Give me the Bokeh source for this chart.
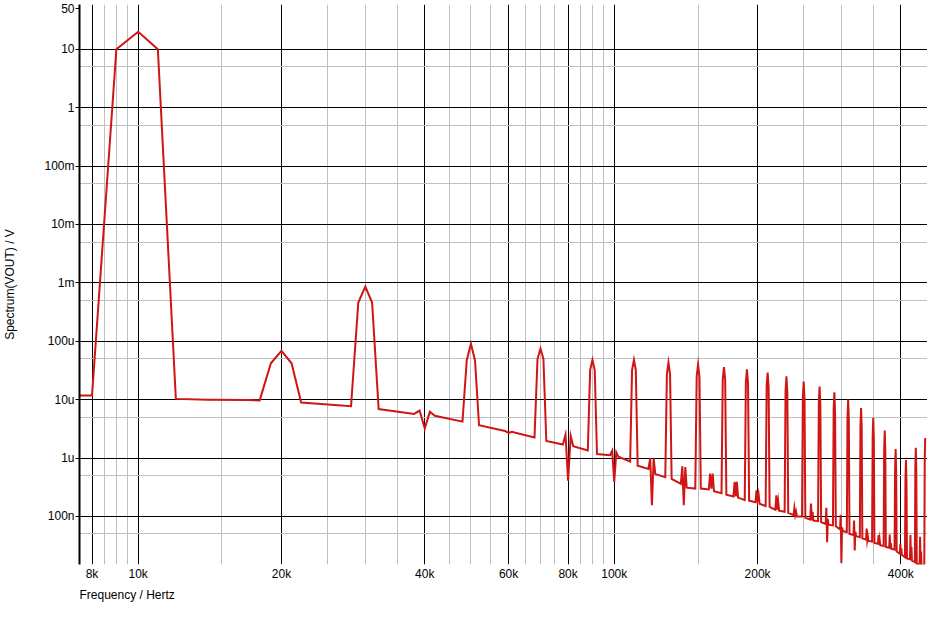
from bokeh.plotting import figure
from bokeh.models import FixedTicker, CustomJSTickFormatter, Title, ColumnDataSource
from bokeh.embed import file_html
from bokeh.resources import INLINE

# ---------------- data ----------------
# fundamental region: frequency in kHz, magnitude in V
fund_khz = [7, 8, 9, 10, 11, 12, 14, 17]
fund_v = [1.17e-5, 1.18e-5, 10.0, 20.0, 10.0, 1.03e-5, 1.0e-5, 9.9e-6]

# harmonic groups: each harmonic is drawn with FFT bins at -2, -1, 0, +1, +2 kHz
bin_offsets_khz = [-2, -1, 0, 1, 2]
harm_khz = [20, 30, 40, 50, 60, 70, 80, 90, 100, 110, 120, 130, 140, 150, 160,
            170, 180, 190, 200, 210, 220, 230, 240, 250, 260, 270, 280, 290, 300,
            310, 320, 330, 340, 350, 360, 370, 380, 390, 400, 410, 420, 430, 440, 450]
floor_lo_v = [9.7e-6, 7.7e-6, 5.7e-6, 4.2e-6, 3.0e-6, 2.25e-6, 1.7e-6, 1.35e-6, 1.12e-6,
              8.7e-7, 6.5e-7, 4.7e-7, 3.6e-7, 3.0e-7, 2.9e-7, 2.5e-7, 2.2e-7, 1.9e-7,
              1.75e-7, 1.5e-7, 1.3e-7, 1.2e-7, 1.05e-7, 1.0e-7, 8.8e-8, 8.3e-8, 7.4e-8,
              7.0e-8, 6.0e-8, 5.4e-8, 4.8e-8, 4.4e-8, 4.0e-8, 3.7e-8, 3.4e-8, 3.1e-8,
              2.9e-8, 2.7e-8, 2.3e-8, 2.0e-8, 1.85e-8, 1.65e-8, 1.5e-8, 1.45e-8]
side_lo_v = [4.2e-5, 4.6e-4, 6.5e-6, 4.7e-5, 2.9e-6, 5.0e-5, 2.5e-6, 3.2e-5, 1.33e-6,
             3.2e-5, 1.0e-6, 2.7e-5, 7.2e-7, 2.5e-5, 5.4e-7, 2.2e-5, 3.9e-7, 2.0e-5,
             2.8e-7, 1.7e-5, 2.3e-7, 1.4e-5, 1.4e-7, 1.1e-5, 1.66e-7, 9.0e-6, 1.4e-7,
             7.0e-6, 1.07e-7, 5.0e-6, 8.5e-8, 3.5e-6, 6.2e-8, 2.3e-6, 4.8e-8, 1.4e-6,
             4.9e-8, 6.5e-7, 3.4e-8, 4.2e-7, 4.8e-8, 7.0e-7, 4.5e-8, 1.0e-6]
peak_v = [6.85e-5, 8.65e-4, 3.2e-6, 9.1e-5, 2.7e-6, 7.5e-5, 4.1e-7, 4.8e-5, 3.9e-7,
          4.8e-5, 1.55e-7, 4.3e-5, 1.55e-7, 4.0e-5, 3.0e-7, 3.6e-5, 2.2e-7, 3.3e-5,
          1.9e-7, 2.9e-5, 1.3e-7, 2.5e-5, 1.05e-7, 2.04e-5, 8.6e-8, 1.68e-5, 3.6e-8,
          1.33e-5, 1.6e-8, 1.0e-5, 2.6e-8, 7.2e-6, 3.9e-8, 4.9e-6, 3.3e-8, 2.95e-6,
          2.8e-8, 1.42e-6, 2.2e-8, 9.2e-7, 1.75e-8, 1.5e-6, 1.4e-8, 2.2e-6]
side_hi_v = [4.2e-5, 4.6e-4, 6.2e-6, 4.7e-5, 2.8e-6, 5.0e-5, 2.4e-6, 3.2e-5, 1.25e-6,
             3.2e-5, 9.8e-7, 2.7e-5, 7.0e-7, 2.5e-5, 5.4e-7, 2.2e-5, 3.9e-7, 1.9e-5,
             2.4e-7, 1.6e-5, 1.8e-7, 1.3e-5, 1.2e-7, 1.0e-5, 1.2e-7, 8.0e-6, 9.0e-8,
             6.0e-6, 6.5e-8, 4.5e-6, 5.5e-8, 3.2e-6, 4.5e-8, 2.1e-6, 4.0e-8, 1.3e-6,
             3.5e-8, 6.0e-7, 2.8e-8, 4.0e-7, 3.0e-8, 6.5e-7, 2.5e-8, None]
floor_hi_v = [8.9e-6, 6.9e-6, 5.3e-6, 3.65e-6, 2.7e-6, 1.96e-6, 1.6e-6, 1.17e-6, 1.05e-6,
              7.4e-7, 5.3e-7, 4.4e-7, 3.1e-7, 3.0e-7, 2.7e-7, 2.35e-7, 2.1e-7, 1.85e-7,
              1.65e-7, 1.45e-7, 1.25e-7, 1.15e-7, 1.0e-7, 9.5e-8, 8.5e-8, 8.0e-8, 7.2e-8,
              6.8e-8, 5.6e-8, 5.0e-8, 4.6e-8, 4.2e-8, 3.8e-8, 3.5e-8, 3.2e-8, 3.0e-8,
              2.8e-8, 2.5e-8, 2.2e-8, 1.9e-8, 1.75e-8, 1.55e-8, 1.45e-8, None]

# axes
x_range_hz = (7530, 455000)
y_range_v = (1.5e-8, 58.6)
x_major_khz = [8, 10, 20, 40, 60, 80, 100, 200, 400]
x_minor_khz = [8.5, 9, 9.5, 15, 25, 30, 35, 45, 50, 55, 65, 70, 75, 85, 90, 95,
               150, 250, 300, 350]
y_labels_v = [1e-7, 1e-6, 1e-5, 1e-4, 1e-3, 1e-2, 0.1, 1, 10, 50]
y_grid_major_v = [1e-7, 1e-6, 1e-5, 1e-4, 1e-3, 1e-2, 0.1, 1, 10]
y_grid_minor_v = [5e-8, 5e-7, 5e-6, 5e-5, 5e-4, 5e-3, 0.05, 0.5, 5]

# ---------------- build series ----------------
freq_hz = [k * 1000 for k in fund_khz]
mag_v = list(fund_v)
for h, a, b, c, d, e in zip(harm_khz, floor_lo_v, side_lo_v, peak_v, side_hi_v, floor_hi_v):
    for off, v in zip(bin_offsets_khz, [a, b, c, d, e]):
        if v is None:
            continue
        freq_hz.append((h + off) * 1000)
        mag_v.append(v)

src = ColumnDataSource(dict(f=freq_hz, v=mag_v))

FONT = "Liberation Sans"

p = figure(width=927, height=603, x_axis_type="log", y_axis_type="log",
           x_range=x_range_hz, y_range=y_range_v,
           output_backend="svg", toolbar_location=None,
           min_border_left=79, min_border_right=0, min_border_top=4,
           min_border_bottom=0)
p.outline_line_color = None
p.background_fill_color = "white"
p.border_fill_color = "white"

p.line("f", "v", source=src, line_color="#D01515", line_width=2, line_join="miter")

# x axis
xa = p.xaxis[0]
xa.ticker = FixedTicker(ticks=[k * 1000 for k in x_major_khz])
xa.formatter = CustomJSTickFormatter(code="return Math.round(tick/1000) + 'k';")
xa.axis_line_color = None
xa.major_tick_line_color = None
xa.major_tick_out = 0
xa.major_tick_in = 0
xa.minor_tick_line_color = None
xa.minor_tick_out = 0
xa.minor_tick_in = 0
xa.major_label_standoff = 2
xa.major_label_text_font = FONT
xa.major_label_text_font_size = "12px"
xa.major_label_text_color = "#000000"

# y axis
ya = p.yaxis[0]
ya.ticker = FixedTicker(ticks=y_labels_v)
ya.formatter = CustomJSTickFormatter(code="""
const v = tick;
if (v >= 0.999) return String(Math.round(v));
if (v >= 0.999e-3) return Math.round(v*1e3) + 'm';
if (v >= 0.999e-6) return Math.round(v*1e6) + 'u';
return Math.round(v*1e9) + 'n';
""")
ya.axis_line_color = "#000000"
ya.axis_line_width = 2
ya.major_tick_line_color = "#000000"
ya.major_tick_out = 4
ya.major_tick_in = 0
ya.minor_tick_line_color = None
ya.minor_tick_out = 0
ya.minor_tick_in = 0
ya.major_label_standoff = 1
ya.major_label_text_font = FONT
ya.major_label_text_font_size = "12px"
ya.major_label_text_color = "#000000"
ya.axis_label = "Spectrum(VOUT) / V"
ya.axis_label_text_font = FONT
ya.axis_label_text_font_size = "12px"
ya.axis_label_text_font_style = "normal"
ya.axis_label_text_color = "#000000"
ya.axis_label_standoff = 24

# grids
p.xgrid.ticker = FixedTicker(ticks=[k * 1000 for k in x_major_khz],
                             minor_ticks=[k * 1000 for k in x_minor_khz])
p.xgrid.grid_line_color = "#000000"
p.xgrid.grid_line_width = 1
p.xgrid.minor_grid_line_color = "#C0C0C0"
p.xgrid.minor_grid_line_width = 1

p.ygrid.ticker = FixedTicker(ticks=y_grid_major_v, minor_ticks=y_grid_minor_v)
p.ygrid.grid_line_color = "#000000"
p.ygrid.grid_line_width = 1
p.ygrid.minor_grid_line_color = "#C0C0C0"
p.ygrid.minor_grid_line_width = 1

# x axis title, left aligned below the tick labels
xt = Title(text="Frequency / Hertz", align="left", text_font=FONT,
           text_font_size="12px", text_font_style="normal", text_color="#000000",
           standoff=4)
p.add_layout(xt, "below")

open("out.html", "w").write(file_html(p, INLINE))
